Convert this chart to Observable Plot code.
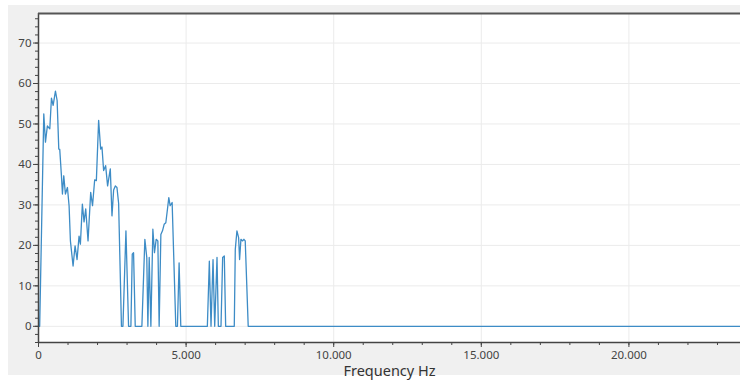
<!DOCTYPE html>
<html>
<head>
<meta charset="utf-8">
<script src="https://cdn.jsdelivr.net/npm/d3@7"></script>
<script src="https://cdn.jsdelivr.net/npm/@observablehq/plot@0.6"></script>
<style>
  body { margin: 0; background: white; }
  #wrap { position: relative; width: 740px; height: 385px; overflow: hidden; }
  #bg { position: absolute; left: 8px; top: 5px; width: 732px; height: 370px; background: #f0f0f0; }
  #chart { position: absolute; left: 0; top: 0; }
</style>
</head>
<body>
<div id="wrap"><div id="bg"></div><div id="chart"></div></div>
<script>
const freq = [0, 40, 179, 236, 300, 383, 439, 496, 574, 631, 687, 720, 777, 811, 856, 912, 980, 1036, 1081, 1171, 1239, 1306, 1374, 1419, 1486, 1543, 1600, 1678, 1768, 1830, 1903, 1960, 2037, 2105, 2150, 2206, 2274, 2341, 2432, 2489, 2545, 2602, 2658, 2714, 2810, 2860, 2962, 3051, 3130, 3176, 3220, 3277, 3502, 3603, 3668, 3705, 3750, 3807, 3874, 3929, 3986, 4043, 4087, 4145, 4200, 4256, 4313, 4369, 4414, 4459, 4527, 4651, 4706, 4763, 4820, 5720, 5787, 5844, 5912, 5969, 6047, 6092, 6182, 6238, 6294, 6340, 6632, 6666, 6722, 6779, 6812, 6857, 6914, 6958, 7003, 7104, 23780];
const amp = [0, 0, 52.5, 45.5, 49.5, 48.8, 56.4, 54.6, 58.1, 55.8, 43.8, 43.7, 37.2, 32.7, 37.2, 32.7, 34.3, 29.8, 21.1, 14.9, 19.9, 16.5, 22.3, 20.3, 30.2, 25.8, 29.0, 21.1, 33.1, 29.8, 36.2, 36.0, 50.9, 43.8, 44.3, 38.5, 39.7, 34.7, 38.9, 27.3, 33.7, 34.7, 34.3, 30.4, 0, 0, 23.6, 0, 0, 17.8, 18.2, 0, 0, 21.5, 17.0, 0, 17.0, 0, 24.0, 18.2, 21.5, 21.1, 0, 22.7, 23.6, 25.2, 25.6, 29.0, 31.8, 29.8, 30.6, 0, 0, 15.7, 0, 0, 16.1, 0, 16.5, 0, 17.0, 0, 0, 17.0, 17.4, 0, 0, 19.0, 23.6, 21.9, 16.5, 21.5, 21.1, 21.5, 21.1, 0, 0];
const xMajorTicks = [0, 5000, 10000, 15000, 20000];
const yMajorTicks = [0, 10, 20, 30, 40, 50, 60, 70];
const xLabel = "Frequency Hz";

const xDomain = [0, 23780];
const yDomain = [-4, 77.3];
const xMinor = d3.range(0, 23780, 1000);
const yMinor = d3.range(-4, 77.3, 2);
const data = freq.map((f, i) => ({f, a: amp[i]}));
const fmt = d3.formatLocale({decimal: ",", thousands: ".", grouping: [3], currency: ["", ""]}).format(",");

const chart = Plot.plot({
  width: 740,
  height: 385,
  marginLeft: 38,
  marginRight: 0,
  marginTop: 13,
  marginBottom: 43,
  style: {background: "transparent", fontFamily: "'Noto Sans', 'Open Sans', sans-serif", overflow: "visible"},
  x: {domain: xDomain, axis: null},
  y: {domain: yDomain, axis: null},
  marks: [
    Plot.frame({fill: "white", stroke: "none"}),
    Plot.ruleY(yMajorTicks, {stroke: "#ebebeb", strokeWidth: 1}),
    Plot.ruleX(xMajorTicks.filter(d => d > 0), {stroke: "#ebebeb", strokeWidth: 1}),
    Plot.line(data, {x: "f", y: "a", stroke: "#3d8cc6", strokeWidth: 1.3}),
    Plot.axisX({ticks: xMinor, tickSize: 3, text: null, stroke: "#444", label: null}),
    Plot.axisX({ticks: xMajorTicks, tickSize: 5, tickFormat: fmt, stroke: "#444", fill: "#444", fontSize: 11.5, tickPadding: 3, label: null}),
    Plot.axisY({ticks: yMinor, tickSize: 3, text: null, stroke: "#444", label: null}),
    Plot.axisY({ticks: yMajorTicks, tickSize: 5, stroke: "#444", fill: "#444", fontSize: 11.5, tickPadding: 2, label: null}),
    Plot.ruleX([xDomain[0]], {stroke: "#444", strokeWidth: 1.5}),
    Plot.ruleY([yDomain[0]], {stroke: "#444", strokeWidth: 1.5}),
    Plot.ruleY([yDomain[1]], {stroke: "#555", strokeWidth: 2}),
    Plot.text([xLabel], {frameAnchor: "bottom", dy: 33, text: d => d, fontSize: 14.5, fill: "#333"})
  ]
});
document.getElementById("chart").appendChild(chart);
</script>
</body>
</html>
